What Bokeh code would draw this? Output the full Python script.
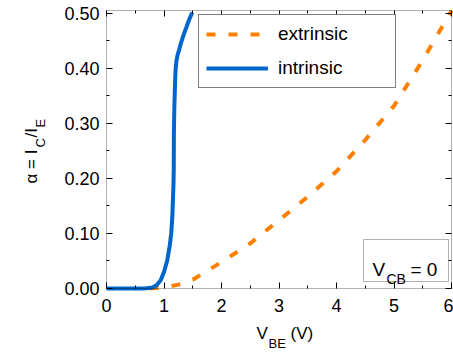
import numpy as np
from bokeh.plotting import figure
from bokeh.models import (Range1d, FixedTicker, PrintfTickFormatter, LinearAxis,
                          Legend, LegendItem, Label, BoxAnnotation, CustomJSTickFormatter)
from bokeh.embed import file_html
from bokeh.resources import INLINE

# ---------------- data ----------------
ext_x = [0.75, 1.0, 1.25, 1.5, 2.0, 2.5, 3.0, 3.5, 4.0, 4.5, 5.0, 5.5, 6.0]
ext_y = [0.0, 0.002, 0.007, 0.016, 0.048, 0.082, 0.124, 0.167, 0.213, 0.27, 0.332, 0.415, 0.505]

int_x = [0.0, 0.3, 0.6, 0.7, 0.8, 0.87, 0.94, 1.0, 1.056, 1.1, 1.125, 1.145, 1.155,
         1.165, 1.17, 1.172, 1.18, 1.19, 1.196, 1.203, 1.215, 1.235, 1.26, 1.3, 1.35,
         1.39, 1.43, 1.49]
int_y = [0.0, 0.0, 0.0, 0.0005, 0.002, 0.006, 0.0145, 0.03, 0.051, 0.078, 0.10, 0.13, 0.16,
         0.19, 0.22, 0.282, 0.33, 0.365, 0.385, 0.40, 0.413, 0.424, 0.433, 0.448, 0.464,
         0.475, 0.487, 0.502]

x_ticks = [0, 1, 2, 3, 4, 5, 6]
x_minor = [0.5, 1.5, 2.5, 3.5, 4.5, 5.5]
y_ticks = [0.0, 0.1, 0.2, 0.3, 0.4, 0.5]
y_minor = [0.05, 0.15, 0.25, 0.35, 0.45]
series_names = ["extrinsic", "intrinsic"]

# ---------------- layout ----------------
W, H = 453, 352
# pixel box of the axes frame inside the canvas
FL, FR, FT, FB = 106, 451, 10, 288
XA, XB = 0.0, 6.0          # axis limits
YA, YB = 0.0, 0.50545
KX = (FR - FL) / (XB - XA)  # px per x unit
KY = (FB - FT) / (YB - YA)  # px per y unit
# the plotting frame covers the whole canvas so that labels are not clipped
X0, X1 = XA - FL / KX, XB + (W - FR) / KX
Y0, Y1 = YA - (H - FB) / KY, YB + FT / KY
FONT = "Liberation Sans"
ORANGE = "#FF8000"
BLUE = "#0066CC"


def dx(px):
    return X0 + px / KX


def dy(py):
    return Y1 - py / KY


p = figure(width=W, height=H, x_range=Range1d(X0, X1), y_range=Range1d(Y0, Y1),
           output_backend="svg", toolbar_location=None, x_axis_type=None, y_axis_type=None,
           min_border=0, min_border_left=0, min_border_right=0,
           min_border_top=0, min_border_bottom=0)
p.xgrid.visible = False
p.ygrid.visible = False
p.outline_line_color = None
p.background_fill_color = "white"
p.border_fill_color = "white"
p.title.visible = False


def make_axis(side, loc, ticks, minor, fmt):
    ax = LinearAxis(fixed_location=loc)
    ax.ticker = FixedTicker(ticks=ticks, minor_ticks=minor)
    ax.major_tick_in = 6
    ax.major_tick_out = 0
    ax.minor_tick_in = 3
    ax.minor_tick_out = 0
    ax.axis_line_color = None
    ax.major_tick_line_color = "black"
    ax.minor_tick_line_color = "black"
    ax.major_label_text_font = FONT
    ax.major_label_text_color = "black"
    ax.major_label_text_font_size = "18px"
    if fmt is None:
        ax.formatter = CustomJSTickFormatter(code="return ''")
        ax.major_label_standoff = 0
    else:
        ax.formatter = PrintfTickFormatter(format=fmt)
    p.add_layout(ax, side)
    return ax


bottom_ax = make_axis("below", YA, x_ticks, x_minor, "%d")
left_ax = make_axis("left", XA, y_ticks, y_minor, "%.2f")
make_axis("above", YB, x_ticks, x_minor, None)
make_axis("right", XB, y_ticks, y_minor, None)
bottom_ax.major_label_standoff = 10
left_ax.major_label_standoff = 7

# axes frame
p.add_layout(BoxAnnotation(left=XA, right=XB, bottom=YA, top=YB, fill_alpha=0,
                           line_color="black", line_width=1, level="overlay"))

# ---------------- curves ----------------
r_ext = p.line(ext_x, ext_y, line_color=ORANGE, line_width=4, line_dash="9 13")
r_int = p.line(int_x, int_y, line_color=BLUE, line_width=4)

legend = Legend(items=[LegendItem(label=series_names[0], renderers=[r_ext]),
                       LegendItem(label=series_names[1], renderers=[r_int])],
                location=(198, H - 88), orientation="vertical",
                border_line_color="black", border_line_width=1,
                background_fill_color="white", background_fill_alpha=1.0,
                padding=7, spacing=10, margin=0,
                glyph_width=62, glyph_height=24, label_height=24, label_width=110,
                label_standoff=10, label_text_font=FONT, label_text_font_size="19px",
                label_text_color="black")
p.add_layout(legend)

# ---------------- V_CB = 0 box ----------------
p.add_layout(BoxAnnotation(left=dx(363), right=dx(448), top=dy(239), bottom=dy(281),
                           fill_alpha=0, line_color="black", line_width=1))


def lab(px, py, text, size, angle=0.0):
    p.add_layout(Label(x=dx(px), y=dy(py), text=text, text_font=FONT,
                       text_font_size=size, text_color="black", angle=angle,
                       text_align="left", text_baseline="alphabetic"))


lab(372, 269, "V", "19px")
lab(386, 278, "CB", "14px")
lab(410, 269, "= 0", "19px")

# ---------------- axis titles ----------------
lab(256, 333, "V", "17px")
lab(268, 343, "BE", "13px")
lab(290, 333, "(V)", "17px")

a = np.pi / 2
lab(31, 183, "α = I", "17px", a)
lab(40, 147, "C", "13px", a)
lab(31, 137, "/I", "17px", a)
lab(40, 127, "E", "13px", a)

open("out.html", "w").write(file_html(p, INLINE))
